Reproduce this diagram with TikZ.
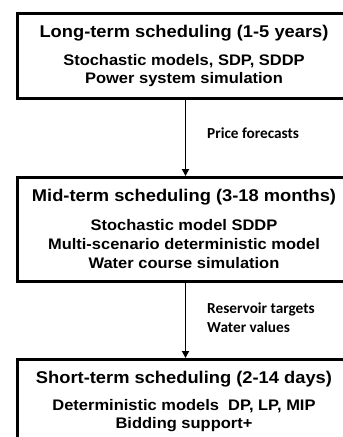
\documentclass[tikz,border=0pt]{standalone}
\usepackage{fontspec}
\setmainfont{Liberation Sans}[FakeStretch=1.077]
\newfontfamily\lblfont{Carlito}
\usetikzlibrary{arrows.meta}
\begin{document}
\begin{tikzpicture}[x=1pt,y=-1pt,
  box/.style={draw=black,line width=3pt,minimum width=336pt,inner sep=0pt,anchor=north west},
  ttl/.style={font=\fontsize{17}{17}\selectfont\bfseries,inner sep=0pt},
  body/.style={font=\fontsize{15.3}{15.3}\selectfont\bfseries,inner sep=0pt},
  lbl/.style={font=\lblfont\fontsize{15.3}{15.3}\selectfont\bfseries,inner sep=0pt,anchor=west},
  arr/.style={line width=1.8pt,-{Triangle[length=7pt,width=7pt]}}]
\useasboundingbox (0,0) rectangle (343,437);
% boxes
\node[box,minimum height=85pt] (lt) at (16,12) {};
\node[box,minimum height=104pt] (mt) at (16,176) {};
\node[box,minimum height=110pt] (st) at (16,358) {};
% texts long-term
\node[ttl] (lt1) at (184,33) {Long-term scheduling (1-5 years)};
\node[body] (lt2) at (184,61) {Stochastic models, SDP, SDDP};
\node[body] (lt3) at (184,80) {Power system simulation};
% mid-term
\node[ttl] (mt1) at (184,197) {Mid-term scheduling (3-18 months)};
\node[body] (mt2) at (184,225) {Stochastic model SDDP};
\node[body] (mt3) at (184,244) {Multi-scenario deterministic model};
\node[body] (mt4) at (184,263) {Water course simulation};
% short-term
\node[ttl] (st1) at (184,379) {Short-term scheduling (2-14 days)};
\node[body] (st2) at (184,406) {Deterministic models\ \ DP, LP, MIP};
\node[body] (st3) at (184,425) {Bidding support+};
% arrows
\draw[arr] (lt) -- (mt);
\draw[arr] (mt) -- (st);
% labels
\node[lbl] (l1) at (207,133) {Price forecasts};
\node[lbl] (l2) at (207,309) {Reservoir targets};
\node[lbl] (l3) at (207,327) {Water values};
\end{tikzpicture}
\end{document}
